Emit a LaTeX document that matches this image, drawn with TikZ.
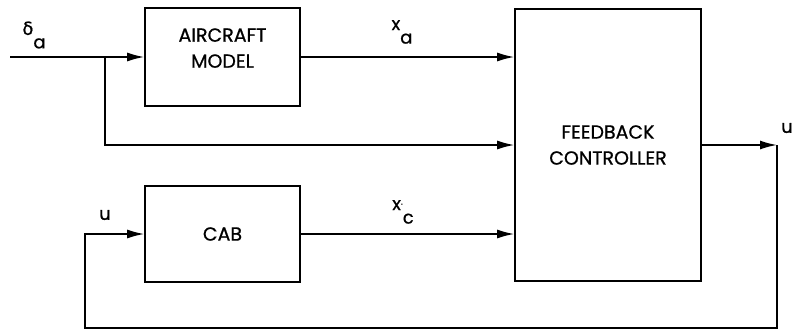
\documentclass[tikz,border=0pt]{standalone}
\usepackage{fontspec}
\setmainfont[FakeBold=0.8]{Poppins}
\newfontfamily\greekfont[FakeBold=0.8]{DejaVu Sans}
\usetikzlibrary{positioning,arrows.meta,calc}
\newcommand{\siglbl}[2]{#1\raisebox{-0.75em}{#2}}

\begin{document}
\begin{tikzpicture}[x=1pt,y=-1pt,
      line width=1.6pt,
      block/.style={draw,minimum width=155pt,align=center,font=\fontsize{19}{26}\selectfont,inner sep=0pt},
      sig/.style={font=\fontsize{18}{20}\selectfont,inner sep=0pt},
      arr/.style={-{Latex[length=17pt,width=9pt]}}]
    \useasboundingbox (0,0) rectangle (793,330);

    \node[block,minimum height=98pt,text depth=18pt] (aircraft) at (222.5,57) {AIRCRAFT\\MODEL};
    \node[block,minimum height=96pt]                 (cab)      at (222.5,234) {CAB};
    \node[block,minimum width=186pt,minimum height=272pt] (ctrl) at (608,145) {FEEDBACK\\CONTROLLER};

    \coordinate (in)    at (10,57);
    \coordinate (split) at (105,57);
    \coordinate (ubr)   at (777,145);
    \coordinate (ubl)   at (85,328);

    \draw[arr] (in) -- (aircraft.west);
    \draw[arr] (split) |- (ctrl.west);
    \draw[arr] (aircraft.east) -- (aircraft.east -| ctrl.west);
    \draw[arr] (cab.east) -- (cab.east -| ctrl.west);
    \draw[arr] (ctrl.east) -- (ubr);
    \draw[arr] (ubr) |- (ubl) |- (cab.west);

    \node[sig] (delta) at (34,35)  {\siglbl{{\greekfont δ}}{a}};
    \node[sig] (xa)    at (402,32) {\siglbl{x}{a}};
    \node[sig] (xc)    at (403,212) {\siglbl{x\raisebox{0.3em}{\small.}}{c}};
    \node[sig] (uin)   at (105,215) {u};
    \node[sig] (uout)  at (787,128) {u};
  \end{tikzpicture}
\end{document}
